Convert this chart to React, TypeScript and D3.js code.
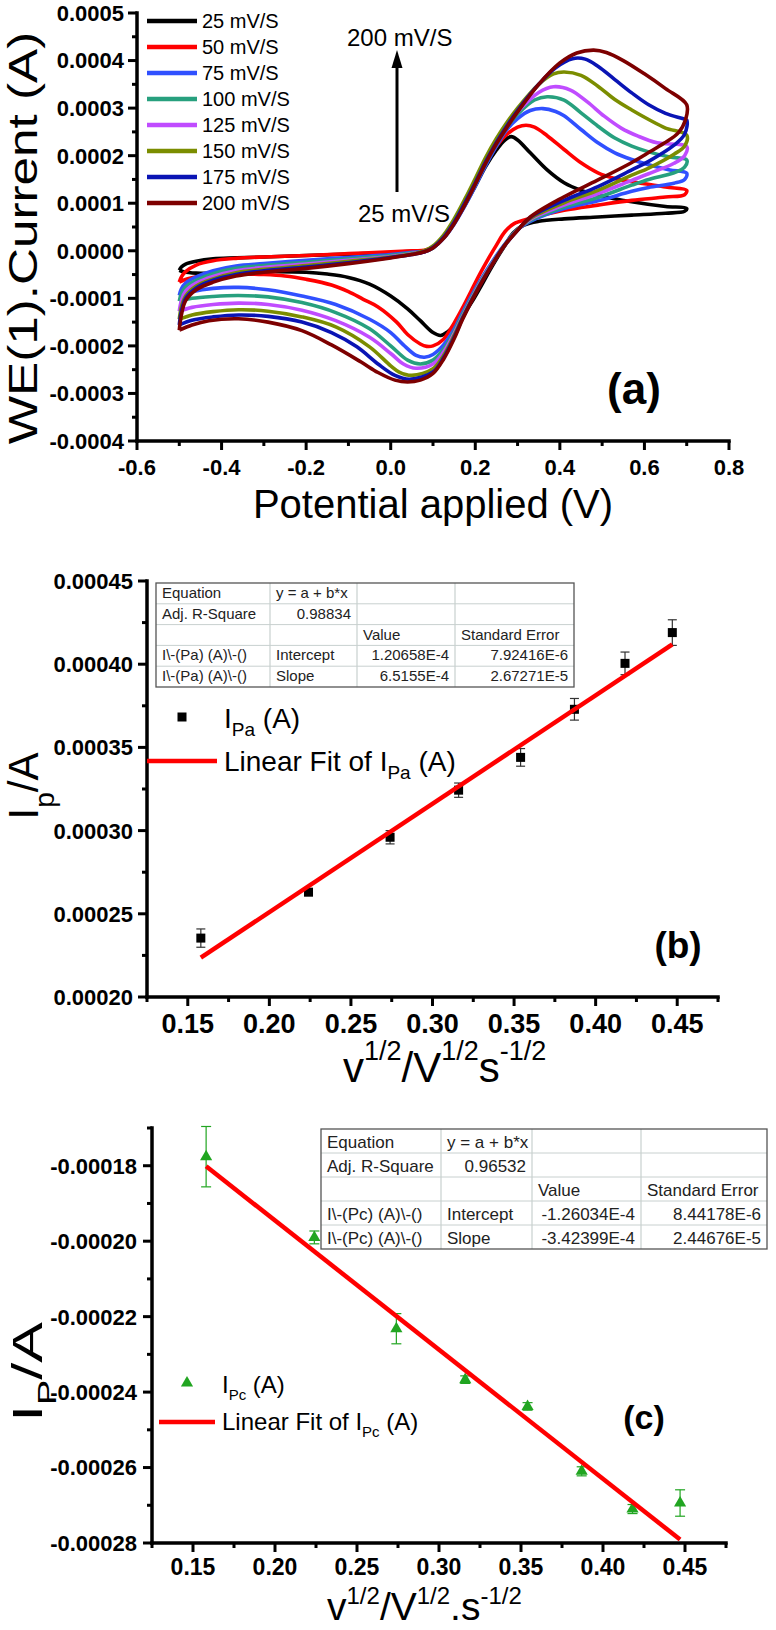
import React from 'react';
import * as d3 from 'd3';

const FONT = '"Liberation Sans", Arial, Helvetica, sans-serif';

type Pt = [number, number];

// ---------- (a) cyclic voltammograms ----------
// points are [potential (V), current (1e-4 A)], forward scan then reverse scan
const scanLabels = ['25 mV/S', '50 mV/S', '75 mV/S', '100 mV/S', '125 mV/S', '150 mV/S', '175 mV/S', '200 mV/S'];
const scanColors = ['#000000', '#ff0000', '#3050ff', '#27a07e', '#c04cff', '#7b8d00', '#0a14b4', '#7d0000'];

const cv25: Pt[] = [
  [-0.5, -0.41], [-0.495, -0.34], [-0.485, -0.28], [-0.46, -0.22], [-0.42, -0.17], [-0.366, -0.15], [-0.3, -0.13],
  [-0.2, -0.1], [-0.1, -0.07], [0.0, -0.04], [0.05, -0.01], [0.08, 0.0], [0.1, 0.07], [0.125, 0.27], [0.15, 0.58],
  [0.175, 0.95], [0.2, 1.36], [0.225, 1.78], [0.25, 2.12], [0.27, 2.33], [0.285, 2.4], [0.3, 2.33], [0.33, 2.06],
  [0.37, 1.7], [0.41, 1.43], [0.45, 1.27], [0.49, 1.17], [0.57, 1.03], [0.65, 0.93], [0.7, 0.89],
  [0.695, 0.83], [0.65, 0.79], [0.57, 0.75], [0.49, 0.71], [0.41, 0.67], [0.35, 0.62], [0.315, 0.54], [0.29, 0.38],
  [0.275, 0.18], [0.255, -0.1], [0.235, -0.4], [0.215, -0.72], [0.195, -1.03], [0.175, -1.3], [0.155, -1.53],
  [0.135, -1.7], [0.118, -1.78], [0.1, -1.72], [0.07, -1.47], [0.04, -1.22], [0.0, -0.95], [-0.05, -0.7],
  [-0.1, -0.56], [-0.15, -0.49], [-0.2, -0.45], [-0.3, -0.44], [-0.4, -0.47], [-0.46, -0.47], [-0.49, -0.44], [-0.5, -0.41],
];
const cv50: Pt[] = [
  [-0.5, -0.66], [-0.495, -0.55], [-0.485, -0.44], [-0.46, -0.3], [-0.42, -0.21], [-0.366, -0.16], [-0.3, -0.13],
  [-0.2, -0.1], [-0.1, -0.06], [0.0, -0.02], [0.05, 0.0], [0.08, 0.01], [0.1, 0.08], [0.125, 0.29], [0.15, 0.6],
  [0.175, 0.98], [0.2, 1.4], [0.225, 1.84], [0.25, 2.2], [0.275, 2.45], [0.3, 2.6], [0.32, 2.64], [0.34, 2.6],
  [0.37, 2.42], [0.41, 2.13], [0.45, 1.85], [0.49, 1.64], [0.53, 1.52], [0.57, 1.45], [0.65, 1.34], [0.7, 1.27],
  [0.695, 1.18], [0.65, 1.13], [0.57, 1.06], [0.49, 0.96], [0.41, 0.85], [0.33, 0.68], [0.29, 0.56], [0.27, 0.4],
  [0.25, 0.12], [0.23, -0.18], [0.21, -0.5], [0.19, -0.85], [0.17, -1.2], [0.15, -1.52], [0.125, -1.86], [0.1, -2.0],
  [0.085, -2.01], [0.07, -1.96], [0.04, -1.76], [0.014, -1.5], [-0.03, -1.18], [-0.065, -1.02], [-0.1, -0.86],
  [-0.14, -0.72], [-0.2, -0.6], [-0.25, -0.53], [-0.3, -0.5], [-0.35, -0.49], [-0.4, -0.5], [-0.45, -0.53], [-0.48, -0.59], [-0.5, -0.66],
];
const cv75: Pt[] = [
  [-0.5, -0.94], [-0.495, -0.8], [-0.485, -0.68], [-0.46, -0.55], [-0.42, -0.42], [-0.366, -0.32], [-0.3, -0.27],
  [-0.2, -0.2], [-0.1, -0.14], [0.0, -0.08], [0.05, -0.03], [0.08, -0.01], [0.1, 0.06], [0.125, 0.26], [0.15, 0.56],
  [0.175, 0.94], [0.2, 1.36], [0.225, 1.8], [0.25, 2.2], [0.275, 2.55], [0.3, 2.78], [0.33, 2.95], [0.36, 2.99],
  [0.39, 2.93], [0.41, 2.84], [0.45, 2.55], [0.49, 2.27], [0.53, 2.06], [0.57, 1.92], [0.61, 1.81], [0.66, 1.7], [0.7, 1.63],
  [0.695, 1.5], [0.67, 1.42], [0.61, 1.33], [0.57, 1.25], [0.49, 1.05], [0.41, 0.89], [0.33, 0.62], [0.3, 0.45],
  [0.27, 0.14], [0.25, -0.1], [0.21, -0.65], [0.17, -1.3], [0.15, -1.65], [0.125, -1.98], [0.1, -2.18], [0.08, -2.24],
  [0.06, -2.2], [0.03, -1.98], [0.0, -1.72], [-0.05, -1.44], [-0.13, -1.13], [-0.21, -0.95], [-0.29, -0.82],
  [-0.36, -0.77], [-0.42, -0.79], [-0.47, -0.86], [-0.5, -0.94],
];
const cv100: Pt[] = [
  [-0.5, -1.06], [-0.495, -0.9], [-0.485, -0.76], [-0.46, -0.62], [-0.42, -0.48], [-0.366, -0.37], [-0.3, -0.31],
  [-0.2, -0.24], [-0.1, -0.17], [0.0, -0.1], [0.05, -0.05], [0.08, -0.02], [0.1, 0.06], [0.125, 0.27], [0.15, 0.58],
  [0.175, 0.97], [0.2, 1.4], [0.225, 1.85], [0.25, 2.25], [0.275, 2.6], [0.3, 2.87], [0.34, 3.17], [0.37, 3.24],
  [0.41, 3.17], [0.45, 2.9], [0.49, 2.62], [0.53, 2.37], [0.57, 2.2], [0.61, 2.08], [0.66, 1.97], [0.7, 1.91],
  [0.695, 1.76], [0.67, 1.64], [0.61, 1.5], [0.57, 1.38], [0.49, 1.12], [0.41, 0.92], [0.33, 0.64], [0.3, 0.45],
  [0.27, 0.13], [0.25, -0.12], [0.21, -0.68], [0.17, -1.34], [0.15, -1.7], [0.125, -2.07], [0.1, -2.3], [0.07, -2.38],
  [0.04, -2.3], [0.0, -2.0], [-0.05, -1.64], [-0.13, -1.3], [-0.21, -1.09], [-0.29, -0.97], [-0.36, -0.94],
  [-0.42, -0.96], [-0.47, -1.0], [-0.5, -1.06],
];
const cv125: Pt[] = [
  [-0.5, -1.27], [-0.495, -1.05], [-0.485, -0.85], [-0.46, -0.68], [-0.42, -0.54], [-0.366, -0.42], [-0.3, -0.35],
  [-0.2, -0.28], [-0.1, -0.2], [0.0, -0.12], [0.05, -0.06], [0.08, -0.02], [0.1, 0.07], [0.125, 0.28], [0.15, 0.6],
  [0.175, 1.0], [0.2, 1.43], [0.225, 1.88], [0.25, 2.28], [0.275, 2.63], [0.3, 2.92], [0.35, 3.33], [0.385, 3.45],
  [0.425, 3.38], [0.465, 3.13], [0.505, 2.83], [0.545, 2.58], [0.585, 2.41], [0.63, 2.27], [0.7, 2.19],
  [0.695, 2.0], [0.67, 1.84], [0.61, 1.62], [0.57, 1.48], [0.49, 1.2], [0.41, 0.96], [0.33, 0.66], [0.3, 0.44],
  [0.27, 0.12], [0.25, -0.13], [0.21, -0.7], [0.17, -1.38], [0.15, -1.74], [0.125, -2.13], [0.1, -2.38], [0.06, -2.47],
  [0.03, -2.38], [0.0, -2.16], [-0.05, -1.82], [-0.13, -1.47], [-0.21, -1.25], [-0.29, -1.13], [-0.36, -1.1],
  [-0.42, -1.13], [-0.47, -1.19], [-0.5, -1.27],
];
const cv150: Pt[] = [
  [-0.5, -1.44], [-0.495, -1.18], [-0.485, -0.95], [-0.46, -0.74], [-0.42, -0.59], [-0.366, -0.46], [-0.3, -0.39],
  [-0.2, -0.31], [-0.1, -0.22], [0.0, -0.13], [0.05, -0.07], [0.08, 0.0], [0.1, 0.1], [0.125, 0.33], [0.15, 0.67],
  [0.175, 1.08], [0.2, 1.52], [0.225, 1.97], [0.25, 2.36], [0.275, 2.7], [0.3, 3.0], [0.35, 3.5], [0.385, 3.72],
  [0.41, 3.76], [0.45, 3.69], [0.49, 3.46], [0.53, 3.18], [0.57, 2.96], [0.61, 2.76], [0.65, 2.58], [0.7, 2.43],
  [0.695, 2.2], [0.67, 2.03], [0.61, 1.74], [0.57, 1.59], [0.49, 1.27], [0.41, 1.01], [0.33, 0.68], [0.3, 0.44],
  [0.27, 0.12], [0.25, -0.14], [0.21, -0.72], [0.17, -1.4], [0.15, -1.78], [0.125, -2.2], [0.1, -2.48], [0.05, -2.62],
  [0.02, -2.55], [0.0, -2.42], [-0.05, -2.02], [-0.13, -1.6], [-0.21, -1.39], [-0.29, -1.27], [-0.36, -1.24],
  [-0.42, -1.28], [-0.47, -1.35], [-0.5, -1.44],
];
const cv175: Pt[] = [
  [-0.5, -1.56], [-0.495, -1.27], [-0.485, -1.0], [-0.46, -0.78], [-0.42, -0.62], [-0.366, -0.5], [-0.3, -0.42],
  [-0.2, -0.34], [-0.1, -0.25], [0.0, -0.14], [0.05, -0.08], [0.08, -0.02], [0.1, 0.07], [0.125, 0.28], [0.15, 0.6],
  [0.175, 1.0], [0.2, 1.43], [0.225, 1.88], [0.25, 2.28], [0.275, 2.63], [0.3, 2.95], [0.35, 3.5], [0.39, 3.85],
  [0.43, 4.04], [0.46, 4.03], [0.49, 3.88], [0.53, 3.6], [0.57, 3.32], [0.61, 3.07], [0.65, 2.89], [0.69, 2.78], [0.7, 2.75],
  [0.695, 2.45], [0.67, 2.22], [0.61, 1.88], [0.57, 1.7], [0.49, 1.35], [0.41, 1.06], [0.33, 0.7], [0.3, 0.43],
  [0.27, 0.12], [0.25, -0.14], [0.21, -0.74], [0.17, -1.42], [0.15, -1.82], [0.125, -2.25], [0.1, -2.55], [0.045, -2.7],
  [0.01, -2.62], [-0.03, -2.38], [-0.08, -2.02], [-0.14, -1.72], [-0.21, -1.5], [-0.29, -1.38], [-0.36, -1.35],
  [-0.42, -1.39], [-0.47, -1.46], [-0.5, -1.56],
];
const cv200: Pt[] = [
  [-0.5, -1.67], [-0.495, -1.35], [-0.485, -1.05], [-0.46, -0.82], [-0.42, -0.66], [-0.366, -0.53], [-0.3, -0.45],
  [-0.2, -0.37], [-0.1, -0.27], [0.0, -0.15], [0.05, -0.08], [0.08, -0.02], [0.1, 0.06], [0.125, 0.26], [0.15, 0.57],
  [0.175, 0.96], [0.2, 1.4], [0.225, 1.85], [0.25, 2.25], [0.275, 2.6], [0.3, 2.92], [0.35, 3.5], [0.4, 3.95],
  [0.44, 4.16], [0.48, 4.22], [0.51, 4.17], [0.55, 4.0], [0.6, 3.72], [0.65, 3.41], [0.7, 3.07],
  [0.697, 2.75], [0.68, 2.48], [0.646, 2.26], [0.607, 2.05], [0.567, 1.84], [0.488, 1.48], [0.409, 1.13], [0.33, 0.71],
  [0.3, 0.43], [0.27, 0.12], [0.25, -0.15], [0.21, -0.75], [0.17, -1.44], [0.15, -1.85], [0.125, -2.28], [0.1, -2.58],
  [0.07, -2.72], [0.04, -2.76], [0.01, -2.72], [-0.03, -2.56], [-0.07, -2.34], [-0.14, -1.98], [-0.21, -1.68],
  [-0.29, -1.5], [-0.36, -1.43], [-0.43, -1.47], [-0.47, -1.56], [-0.5, -1.67],
];
const cvLoops = [cv25, cv50, cv75, cv100, cv125, cv150, cv175, cv200];

const aXTicks = [-0.6, -0.4, -0.2, 0.0, 0.2, 0.4, 0.6, 0.8];
const aYTicks = [-0.0004, -0.0003, -0.0002, -0.0001, 0, 0.0001, 0.0002, 0.0003, 0.0004, 0.0005];

// ---------- (b) / (c) peak currents vs sqrt(scan rate) ----------
const sqrtScanRate = [0.158, 0.224, 0.274, 0.316, 0.354, 0.387, 0.418, 0.447];
const ipa = [0.0002354, 0.000263, 0.000296, 0.0003243, 0.000344, 0.0003729, 0.0004005, 0.000419];
const ipaErr = [0.0000055, 0.000002, 0.000004, 0.0000043, 0.0000053, 0.0000065, 0.0000068, 0.0000077];
const ipc = [-0.0001776, -0.000199, -0.0002232, -0.0002367, -0.0002438, -0.000261, -0.000271, -0.0002694];
const ipcErr = [0.000008, 0.0000017, 0.000004, 0.000001, 0.000001, 0.0000012, 0.0000012, 0.0000035];

const fitB = { intercept: 1.20658e-4, slope: 6.5155e-4 };
const fitC = { intercept: -1.26034e-4, slope: -3.42399e-4 };

const bcXTicks = [0.15, 0.2, 0.25, 0.3, 0.35, 0.4, 0.45];
const bYTicks = [0.0002, 0.00025, 0.0003, 0.00035, 0.0004, 0.00045];
const cYTicks = [-0.00028, -0.00026, -0.00024, -0.00022, -0.0002, -0.00018];

const tableB = [
  ['Equation', 'y = a + b*x', '', ''],
  ['Adj. R-Square', '0.98834', '', ''],
  ['', '', 'Value', 'Standard Error'],
  ['I\\-(Pa) (A)\\-()', 'Intercept', '1.20658E-4', '7.92416E-6'],
  ['I\\-(Pa) (A)\\-()', 'Slope', '6.5155E-4', '2.67271E-5'],
];
const tableC = [
  ['Equation', 'y = a + b*x', '', ''],
  ['Adj. R-Square', '0.96532', '', ''],
  ['', '', 'Value', 'Standard Error'],
  ['I\\-(Pc) (A)\\-()', 'Intercept', '-1.26034E-4', '8.44178E-6'],
  ['I\\-(Pc) (A)\\-()', 'Slope', '-3.42399E-4', '2.44676E-5'],
];

const loc = d3.formatLocale({ decimal: '.', thousands: ',', grouping: [3], currency: ['', ''], minus: '-' });

function minorOf(ticks: number[], dom: number[]) {
  const h = (ticks[1] - ticks[0]) / 2;
  const out = ticks.slice(1).map((t, i) => (t + ticks[i]) / 2);
  const lo = Math.min(dom[0], dom[1]);
  const hi = Math.max(dom[0], dom[1]);
  if (ticks[0] - h >= lo - 1e-9) out.unshift(ticks[0] - h);
  if (ticks[ticks.length - 1] + h <= hi + 1e-9) out.push(ticks[ticks.length - 1] + h);
  return out;
}

function Axes({ xs, ys, xTicks, yTicks, xFmt, yFmt, xFont, yFont, xOff, yOff }: any) {
  const [xa, xb] = xs.range();
  const [ya, yb] = ys.range();
  const xMinor = minorOf(xTicks, xs.domain());
  const yMinor = minorOf(yTicks, ys.domain());
  return (
    <g>
      <g stroke="#000" strokeWidth={3}>
        <line x1={xa} x2={xa} y1={ya} y2={yb} strokeLinecap="square" strokeWidth={3.5} />
        <line x1={xa} x2={xb} y1={ya} y2={ya} strokeLinecap="square" strokeWidth={3.5} />
        {xTicks.map((t: number) => <line key={'xM' + t} x1={xs(t)} x2={xs(t)} y1={ya} y2={ya + 9} />)}
        {xMinor.map((t: number) => <line key={'xm' + t} x1={xs(t)} x2={xs(t)} y1={ya} y2={ya + 5} />)}
        {yTicks.map((t: number) => <line key={'yM' + t} x1={xa} x2={xa - 9} y1={ys(t)} y2={ys(t)} />)}
        {yMinor.map((t: number) => <line key={'ym' + t} x1={xa} x2={xa - 5} y1={ys(t)} y2={ys(t)} />)}
      </g>
      <g fontFamily={FONT} fontWeight="bold" fill="#000">
        {xTicks.map((t: number) => (
          <text key={'xl' + t} x={xs(t)} y={ya + xOff} textAnchor="middle" fontSize={xFont}>{xFmt(t)}</text>
        ))}
        {yTicks.map((t: number) => (
          <text key={'yl' + t} x={xa - yOff} y={ys(t)} dy="0.36em" textAnchor="end" fontSize={yFont}>{yFmt(t)}</text>
        ))}
      </g>
    </g>
  );
}

function FitTable({ left, top, cols, rowH, rows, fontSize, base }: any) {
  const right = cols[cols.length - 1];
  const bottom = top + rowH * rows.length;
  const isNum = (s: string) => /^-?[\d.]+(E-?\d+)?$/.test(s);
  return (
    <g fontFamily={FONT} fontSize={fontSize} fill="#222">
      <rect x={left} y={top} width={right - left} height={bottom - top} fill="#fff" stroke="none" />
      {rows.slice(1).map((_: any, i: number) => (
        <line key={'h' + i} x1={left} x2={right} y1={top + rowH * (i + 1)} y2={top + rowH * (i + 1)} stroke="#c8d0cf" strokeWidth={1} />
      ))}
      {cols.slice(1, -1).map((c: number) => (
        <line key={'v' + c} x1={c} x2={c} y1={top} y2={bottom} stroke="#c8d0cf" strokeWidth={1.2} />
      ))}
      <rect x={left} y={top} width={right - left} height={bottom - top} fill="none" stroke="#555" strokeWidth={1.3} />
      {rows.map((r: string[], i: number) =>
        r.map((s, j) =>
          s ? (
            <text
              key={i + '-' + j}
              x={isNum(s) ? cols[j + 1] - 6 : cols[j] + 6}
              y={top + rowH * i + base}
              textAnchor={isNum(s) ? 'end' : 'start'}
            >
              {s}
            </text>
          ) : null
        )
      )}
    </g>
  );
}

export default function App() {
  // ---- scales ----
  const xA = d3.scaleLinear().domain([-0.6, 0.8]).range([137, 729]);
  const yA = d3.scaleLinear().domain([-0.0004, 0.0005]).range([441, 13]);
  const xB = d3.scaleLinear().domain([0.125, 0.475]).range([147, 718]);
  const yB = d3.scaleLinear().domain([0.0002, 0.00045]).range([997, 581]);
  const xC = d3.scaleLinear().domain([0.125, 0.475]).range([152, 726]);
  const yC = d3.scaleLinear().domain([-0.00028, -0.00017]).range([1543, 1128]);

  const cvLine = d3
    .line<Pt>()
    .x((d) => xA(d[0]))
    .y((d) => yA(d[1] * 1e-4))
    .curve(d3.curveCatmullRom.alpha(0.5));

  const fitLine = (xs: any, ys: any, f: { intercept: number; slope: number }) => {
    const x0 = sqrtScanRate[0];
    const x1 = sqrtScanRate[sqrtScanRate.length - 1];
    return d3.line<number>().x((v) => xs(v)).y((v) => ys(f.intercept + f.slope * v))([x0, x1]) as string;
  };

  const tri = d3.symbol(d3.symbolTriangle, 64)() as string;
  const green = '#21a521';

  return (
    <svg
      width={776}
      height={1630}
      style={{ position: 'absolute', left: 0, top: 0, background: '#fff' }}
      fontFamily={FONT}
    >
      <rect x={0} y={0} width={776} height={1630} fill="#fff" />

      {/* ================= (a) ================= */}
      <g>
        {cvLoops.map((loop, i) => (
          <path key={i} d={cvLine(loop) as string} fill="none" stroke={scanColors[i]} strokeWidth={3.6} strokeLinejoin="round" />
        ))}
        <Axes xs={xA} ys={yA} xTicks={aXTicks} yTicks={aYTicks} xFmt={loc.format('.1f')} yFmt={loc.format('.4f')} xFont={22} yFont={22} xOff={34} yOff={13} />

        {/* legend */}
        {scanLabels.map((s, i) => (
          <g key={s}>
            <line x1={147} x2={197} y1={21 + i * 26} y2={21 + i * 26} stroke={scanColors[i]} strokeWidth={4.5} />
            <text x={202} y={21 + i * 26 + 7} fontSize={20}>{s}</text>
          </g>
        ))}

        {/* scan-rate arrow */}
        <text x={347} y={46} fontSize={24}>200 mV/S</text>
        <line x1={397} x2={397} y1={192} y2={64} stroke="#000" strokeWidth={3} />
        <path d="M397,50 L391.5,68 L402.5,68 Z" fill="#000" />
        <text x={358} y={222} fontSize={24}>25 mV/S</text>

        <text x={634} y={404} fontSize={44} fontWeight="bold" textAnchor="middle">(a)</text>
        <text x={433} y={518} fontSize={40} textAnchor="middle">Potential applied (V)</text>
        <text transform="translate(37,238) rotate(-90) scale(1.28,1)" fontSize={40} textAnchor="middle">WE(1).Current (A)</text>
      </g>

      {/* ================= (b) ================= */}
      <g>
        <Axes xs={xB} ys={yB} xTicks={bcXTicks} yTicks={bYTicks} xFmt={loc.format('.2f')} yFmt={loc.format('.5f')} xFont={27} yFont={22} xOff={36} yOff={14} />
        <FitTable left={156} top={583} cols={[156, 270, 357, 455, 574]} rowH={20.8} rows={tableB} fontSize={15} base={15} />

        <g stroke="#333" strokeWidth={1.2}>
          {sqrtScanRate.map((v, i) => (
            <g key={i}>
              <line x1={xB(v)} x2={xB(v)} y1={yB(ipa[i] - ipaErr[i])} y2={yB(ipa[i] + ipaErr[i])} />
              <line x1={xB(v) - 4.5} x2={xB(v) + 4.5} y1={yB(ipa[i] - ipaErr[i])} y2={yB(ipa[i] - ipaErr[i])} />
              <line x1={xB(v) - 4.5} x2={xB(v) + 4.5} y1={yB(ipa[i] + ipaErr[i])} y2={yB(ipa[i] + ipaErr[i])} />
            </g>
          ))}
        </g>
        {sqrtScanRate.map((v, i) => (
          <rect key={i} x={xB(v) - 4.5} y={yB(ipa[i]) - 4.5} width={9} height={9} fill="#000" />
        ))}
        <path d={fitLine(xB, yB, fitB)} stroke="#ff0000" strokeWidth={4.5} fill="none" />

        {/* legend */}
        <rect x={177.5} y={712.5} width={9} height={9} fill="#000" />
        <text x={224} y={728} fontSize={28}>
          I<tspan dy={8} fontSize={19}>Pa</tspan>
          <tspan dy={-8}> (A)</tspan>
        </text>
        <line x1={147} x2={217} y1={761} y2={761} stroke="#ff0000" strokeWidth={4.5} />
        <text x={224} y={771} fontSize={28}>
          Linear Fit of I<tspan dy={8} fontSize={19}>Pa</tspan>
          <tspan dy={-8}> (A)</tspan>
        </text>

        <text x={678} y={958} fontSize={37} fontWeight="bold" textAnchor="middle">(b)</text>

        <text transform="translate(38,786) rotate(-90)" fontSize={42} textAnchor="middle">
          I<tspan dy={16} fontSize={28}>p</tspan>
          <tspan dy={-16}>/A</tspan>
        </text>
        <text x={343} y={1082} fontSize={42}>
          v<tspan dy={-22} fontSize={27}>1/2</tspan>
          <tspan dy={22}>/V</tspan>
          <tspan dy={-22} fontSize={27}>1/2</tspan>
          <tspan dy={22}>s</tspan>
          <tspan dy={-22} fontSize={27}>-1/2</tspan>
        </text>
      </g>

      {/* ================= (c) ================= */}
      <g>
        <Axes xs={xC} ys={yC} xTicks={bcXTicks} yTicks={cYTicks} xFmt={loc.format('.2f')} yFmt={loc.format('.5f')} xFont={23} yFont={22} xOff={32} yOff={15} />
        <FitTable left={321} top={1129} cols={[321, 441, 532, 641, 767]} rowH={24} rows={tableC} fontSize={17} base={18.5} />

        <g stroke={green} strokeWidth={1.2}>
          {sqrtScanRate.map((v, i) => (
            <g key={i}>
              <line x1={xC(v)} x2={xC(v)} y1={yC(ipc[i] - ipcErr[i])} y2={yC(ipc[i] + ipcErr[i])} />
              <line x1={xC(v) - 5} x2={xC(v) + 5} y1={yC(ipc[i] - ipcErr[i])} y2={yC(ipc[i] - ipcErr[i])} />
              <line x1={xC(v) - 5} x2={xC(v) + 5} y1={yC(ipc[i] + ipcErr[i])} y2={yC(ipc[i] + ipcErr[i])} />
            </g>
          ))}
        </g>
        {sqrtScanRate.map((v, i) => (
          <path key={i} d={tri} transform={`translate(${xC(v)},${yC(ipc[i])})`} fill={green} />
        ))}
        <path d={fitLine(xC, yC, fitC)} stroke="#ff0000" strokeWidth={4.5} fill="none" />

        {/* legend */}
        <path d={tri} transform="translate(187,1383)" fill={green} />
        <text x={222} y={1393} fontSize={24}>
          I<tspan dy={7} fontSize={15}>Pc</tspan>
          <tspan dy={-7}> (A)</tspan>
        </text>
        <line x1={159} x2={215} y1={1422} y2={1422} stroke="#ff0000" strokeWidth={4.5} />
        <text x={222} y={1430} fontSize={24}>
          Linear Fit of I<tspan dy={7} fontSize={15}>Pc</tspan>
          <tspan dy={-7}> (A)</tspan>
        </text>

        <text x={644} y={1429} fontSize={34} fontWeight="bold" textAnchor="middle">(c)</text>

        <text transform="translate(42,1372) rotate(-90) scale(1.45,1)" fontSize={42} textAnchor="middle">
          I<tspan dy={14} fontSize={26}>P</tspan>
          <tspan dy={-14}>/A</tspan>
        </text>
        <text x={327} y={1620} fontSize={39}>
          v<tspan dy={-16} fontSize={24}>1/2</tspan>
          <tspan dy={16}>/V</tspan>
          <tspan dy={-16} fontSize={24}>1/2</tspan>
          <tspan dy={16}>.s</tspan>
          <tspan dy={-16} fontSize={24}>-1/2</tspan>
        </text>
      </g>
    </svg>
  );
}
